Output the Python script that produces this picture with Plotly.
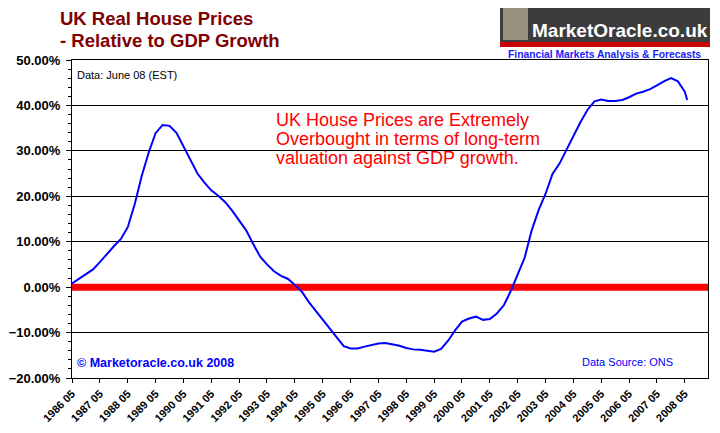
import plotly.graph_objects as go

# quarterly readings, % above/below GDP-relative trend
dates = [
    "1986-05", "1986-08", "1986-11", "1987-02", "1987-05", "1987-08", "1987-11", "1988-02",
    "1988-05", "1988-08", "1988-11", "1989-02", "1989-05", "1989-08", "1989-11", "1990-02",
    "1990-05", "1990-08", "1990-11", "1991-02", "1991-05", "1991-08", "1991-11", "1992-02",
    "1992-05", "1992-08", "1992-11", "1993-02", "1993-05", "1993-08", "1993-11", "1994-02",
    "1994-05", "1994-08", "1994-11", "1995-02", "1995-05", "1995-08", "1995-11", "1996-02",
    "1996-05", "1996-08", "1996-11", "1997-02", "1997-05", "1997-08", "1997-11", "1998-02",
    "1998-05", "1998-08", "1998-11", "1999-02", "1999-05", "1999-08", "1999-11", "2000-02",
    "2000-05", "2000-08", "2000-11", "2001-02", "2001-05", "2001-08", "2001-11", "2002-02",
    "2002-05", "2002-08", "2002-11", "2003-02", "2003-05", "2003-08", "2003-11", "2004-02",
    "2004-05", "2004-08", "2004-11", "2005-02", "2005-05", "2005-08", "2005-11", "2006-02",
    "2006-05", "2006-08", "2006-11", "2007-02", "2007-05", "2007-08", "2007-11", "2008-02",
    "2008-05", "2008-06",
]
values = [
    0.8, 1.8, 2.9, 3.9, 5.5, 7.3, 9.0, 10.6,
    13.2, 18.3, 24.5, 29.7, 33.9, 35.7, 35.5, 33.9,
    31.0, 28.0, 25.0, 23.0, 21.3, 20.1, 18.7, 16.8,
    14.7, 12.5, 9.5, 6.7, 5.0, 3.5, 2.5, 1.8,
    0.5, -1.0, -3.3, -5.3, -7.0, -9.2, -11.2, -13.0,
    -13.5, -13.5, -13.1, -12.7, -12.4, -12.3, -12.6, -12.9,
    -13.4, -13.7, -13.8, -14.0, -14.2, -13.6, -11.8, -9.5,
    -7.6, -6.9, -6.5, -7.2, -7.0, -5.8, -4.0, -0.8,
    2.7, 6.5, 12.5, 17.0, 20.5, 24.9, 27.2, 30.3,
    33.0, 36.3, 39.0, 40.9, 41.3, 41.0, 41.0, 41.2,
    41.8, 42.6, 43.0, 43.6, 44.4, 45.3, 46.0, 45.3,
    43.0, 41.2,
]
tick_years = list(range(1986, 2009))
tick_vals = ["%d-05-01" % y for y in tick_years]
tick_text = ["%d 05" % y for y in tick_years]
x_range = ["1986-05-01", "2009-03-01"]

font = "Liberation Sans"

fig = go.Figure()
# thick red zero line, under the price line but over the grid
fig.add_trace(go.Scatter(x=x_range, y=[0, 0], mode="lines",
                         line=dict(color="#ff0000", width=7), hoverinfo="skip"))
fig.add_trace(go.Scatter(x=dates, y=values, mode="lines",
                         line=dict(color="#0000ff", width=2), hoverinfo="x+y"))

# page is offset 8px by the html body margin, so plot box is laid out for that
def px(x):
    return (x - 72) / 636


def py(y):
    return (378 - y) / 318


# logo box top right
fig.add_shape(type="rect", xref="paper", yref="paper",
              x0=px(500), x1=px(710), y0=py(45), y1=py(3),
              fillcolor="#3c3c3c", line=dict(width=0))
fig.add_shape(type="rect", xref="paper", yref="paper",
              x0=px(500), x1=px(710), y0=py(47), y1=py(42),
              fillcolor="#cc0000", line=dict(width=0))
fig.add_shape(type="rect", xref="paper", yref="paper",
              x0=px(503), x1=px(528), y0=py(40), y1=py(5),
              fillcolor="#9a9080", line=dict(width=0))
# grey left border
fig.add_shape(type="line", xref="paper", yref="paper",
              x0=px(1), x1=px(1), y0=py(0), y1=py(433),
              line=dict(color="#c8c8c8", width=2))

notes = [
    dict(x=58, y=19, text="<b>UK Real House Prices</b>", size=18.5, color="#800000"),
    dict(x=58, y=41, text="<b>- Relative to GDP Growth</b>", size=18.5, color="#800000"),
    dict(x=75, y=75, text="Data: June 08 (EST)", size=11, color="black"),
    dict(x=274, y=120, text="UK House Prices are Extremely", size=18, color="#ff0000"),
    dict(x=274, y=139, text="Overbought in terms of long-term", size=18, color="#ff0000"),
    dict(x=274, y=158, text="valuation against GDP growth.", size=18, color="#ff0000"),
    dict(x=75, y=363, text="<b>© Marketoracle.co.uk 2008</b>", size=12.5, color="#0000ff"),
    dict(x=580, y=362, text="Data Source: ONS", size=11, color="#0000ff"),
    dict(x=530, y=31, text="<b>MarketOracle.co.uk</b>", size=19, color="white"),
    dict(x=506, y=54, text="<b>Financial Markets Analysis & Forecasts</b>", size=10.3, color="#1a1aff"),
]
for n in notes:
    fig.add_annotation(x=px(n["x"]), y=py(n["y"]), xref="paper", yref="paper", text=n["text"],
                       showarrow=False, xanchor="left", yanchor="middle", align="left",
                       font=dict(family=font, size=n["size"], color=n["color"]))

fig.update_layout(
    width=720, height=433,
    margin=dict(l=64, r=20, t=52, b=63),
    paper_bgcolor="white", plot_bgcolor="white",
    showlegend=False,
    font=dict(family=font, color="black"),
)
fig.update_xaxes(
    type="date", range=x_range,
    tickvals=tick_vals, ticktext=tick_text, tickangle=-45,
    tickfont=dict(family=font, size=11, weight="bold"),
    ticks="outside", ticklen=4, tickcolor="black",
    showgrid=False, showline=True, linecolor="black", linewidth=1, mirror=True,
    zeroline=False, automargin=False,
)
fig.update_yaxes(
    range=[-20, 50], dtick=10, tickformat=".2f", ticksuffix="%",
    tickfont=dict(family=font, size=13, weight="bold"),
    ticks="outside", ticklen=5, tickcolor="black", ticklabelstandoff=3,
    minor=dict(ticks="outside", dtick=2, ticklen=3, tickcolor="black", showgrid=False),
    showgrid=True, gridcolor="black", gridwidth=1,
    showline=True, linecolor="black", linewidth=1, mirror=True,
    zeroline=False, automargin=False,
)

fig.write_html("out.html")
